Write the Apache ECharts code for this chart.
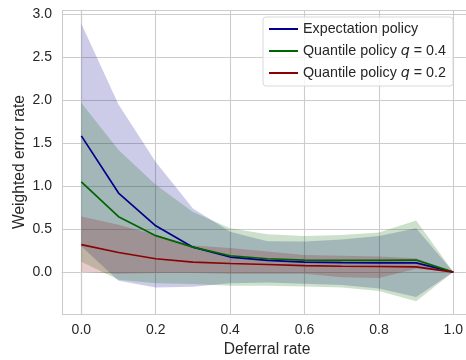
<!DOCTYPE html>
<html><head><meta charset="utf-8">
<script src="https://cdn.jsdelivr.net/npm/echarts@6/dist/echarts.min.js"></script>
<style>html,body{margin:0;padding:0;background:#fff}#c{width:466px;height:360px}</style>
</head><body><div id="c"></div>
<script>
// ---- data ----
const deferralRates = [0, 0.1, 0.2, 0.3, 0.4, 0.5, 0.6, 0.7, 0.8, 0.9, 1.0];

const expMean  = [1.585, 0.92, 0.538, 0.29, 0.175, 0.135, 0.115, 0.11, 0.108, 0.107, 0];
const expLower = [0.30, -0.10, -0.18, -0.17, -0.13, -0.12, -0.135, -0.15, -0.19, -0.29, 0];
const expUpper = [2.89, 1.95, 1.28, 0.74, 0.47, 0.36, 0.356, 0.38, 0.42, 0.51, 0];

const q04Mean  = [1.05, 0.645, 0.424, 0.29, 0.19, 0.155, 0.14, 0.135, 0.135, 0.14, 0];
const q04Lower = [0.12, -0.09, -0.13, -0.14, -0.16, -0.16, -0.167, -0.18, -0.22, -0.34, 0];
const q04Upper = [1.97, 1.42, 1.015, 0.70, 0.51, 0.44, 0.42, 0.43, 0.46, 0.60, 0];

const q02Mean  = [0.32, 0.228, 0.155, 0.116, 0.1, 0.088, 0.075, 0.068, 0.065, 0.06, 0];
const q02Lower = [0.0, -0.02, -0.01, -0.01, -0.02, -0.02, -0.02, -0.06, -0.07, 0.04, 0];
const q02Upper = [0.647, 0.55, 0.43, 0.31, 0.28, 0.24, 0.20, 0.19, 0.18, 0.16, 0];

const seriesNames = ['Expectation policy', 'Quantile policy q = 0.4', 'Quantile policy q = 0.2'];
const xTickLabels = ['0.0', '0.2', '0.4', '0.6', '0.8', '1.0'];
const yTickLabels = ['0.0', '0.5', '1.0', '1.5', '2.0', '2.5', '3.0'];

// ---- build ----
const colors = ['#00008B', '#006400', '#8B0000'];
const groups = [
  [expMean, expLower, expUpper],
  [q04Mean, q04Lower, q04Upper],
  [q02Mean, q02Lower, q02Upper]
];
const pairs = arr => deferralRates.map((x, i) => [x, arr[i]]);

const series = [];
groups.forEach((g, k) => {
  const lo = g[1], hi = g[2];
  const bandData = deferralRates.map((x, i) => [x, lo[i], hi[i]]);
  series.push({
    name: 'band' + k, type: 'custom', silent: true, z: 1, clip: true,
    data: bandData,
    encode: { x: 0, y: [1, 2] },
    renderItem: (params, api) => {
      if (params.dataIndex !== 0) return null;
      const top = bandData.map(d => api.coord([d[0], d[2]]));
      const bot = bandData.map(d => api.coord([d[0], d[1]])).reverse();
      return {
        type: 'polygon',
        shape: { points: top.concat(bot) },
        style: { fill: colors[k], opacity: 0.2 }
      };
    }
  });
});
groups.forEach((g, k) => {
  series.push({
    name: seriesNames[k], type: 'line', data: pairs(g[0]), symbol: 'none',
    color: colors[k], lineStyle: { width: 1.7, color: colors[k] }, z: 5
  });
});

const gridColor = '#cccccc';
const txt = '#262626';
const font = 'Liberation Sans, Arial, sans-serif';

const chart = echarts.init(document.getElementById('c'), null, { renderer: 'canvas' });
chart.setOption({
  animation: false,
  backgroundColor: '#ffffff',
  grid: { left: 62, right: 0, top: 10, bottom: 46, containLabel: false, outerBoundsMode: 'none' },
  xAxis: {
    type: 'value', min: -0.052, max: 1.034, splitNumber: 5,
    name: 'Deferral rate', nameLocation: 'middle', nameGap: 28, nameMoveOverlap: false,
    nameTextStyle: { fontSize: 15.6, color: txt, fontFamily: font, padding: [0, 0, 0, 6] },
    axisLine: { show: true, lineStyle: { color: gridColor, width: 1.2 } },
    axisTick: { show: false },
    splitLine: { show: true, lineStyle: { color: gridColor, width: 1.1 } },
    axisLabel: {
      fontSize: 14, color: txt, fontFamily: font, margin: 9,
      showMinLabel: false, showMaxLabel: false,
      formatter: v => { const s = (Math.abs(v) < 1e-9 ? 0 : v).toFixed(1); return xTickLabels.includes(s) ? s : ''; }
    }
  },
  yAxis: {
    type: 'value', min: -0.488, max: 3.05, splitNumber: 7,
    name: 'Weighted error rate', nameLocation: 'middle', nameGap: 34, nameMoveOverlap: false,
    nameTextStyle: { fontSize: 15.6, color: txt, fontFamily: font },
    axisLine: { show: true, lineStyle: { color: gridColor, width: 1.2 } },
    axisTick: { show: false },
    splitLine: { show: true, lineStyle: { color: gridColor, width: 1.1 } },
    axisLabel: {
      fontSize: 14, color: txt, fontFamily: font, margin: 10,
      showMinLabel: false, showMaxLabel: false,
      formatter: v => { const s = (Math.abs(v) < 1e-9 ? 0 : v).toFixed(1); return yTickLabels.includes(s) ? s : ''; }
    }
  },
  legend: {
    data: seriesNames,
    orient: 'vertical', left: 263, top: 17,
    icon: 'rect', itemWidth: 29, itemHeight: 2, itemGap: 6, itemTextGap: 12,
    padding: [4, 7, 5, 6],
    backgroundColor: 'rgba(255,255,255,0.8)', borderColor: '#d9d9d9', borderWidth: 1, borderRadius: 3,
    formatter: name => name.replace(' q ', ' {i|q} '),
    textStyle: {
      fontSize: 14.3, color: txt, fontFamily: font, lineHeight: 16,
      rich: { i: { fontStyle: 'italic', fontFamily: 'DejaVu Sans', fontSize: 14.3, color: txt, lineHeight: 16 } }
    }
  },
  series: series
});
</script>
</body></html>
